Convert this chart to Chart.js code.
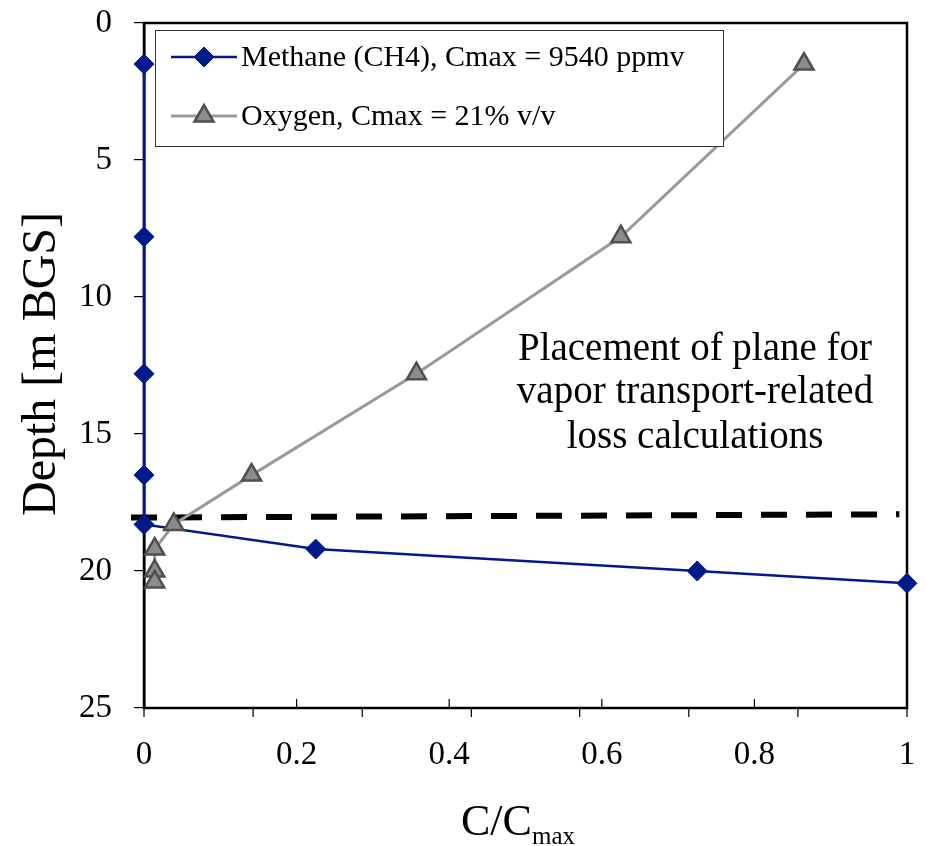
<!DOCTYPE html>
<html>
<head>
<meta charset="utf-8">
<script src="https://cdn.jsdelivr.net/npm/chart.js@4/dist/chart.umd.min.js"></script>
<style>
html, body { margin: 0; padding: 0; background: #fff; }
#wrap { width: 927px; height: 846px; }
</style>
</head>
<body>
<div id="wrap"><canvas id="chart"></canvas></div>
<script>
// values
const methaneX = [0, 0, 0, 0, 0, 0.225, 0.725, 1.0];
const methaneDepth = [1.5, 7.8, 12.8, 16.5, 18.3, 19.2, 20.0, 20.45];
const oxygenX = [0.865, 0.625, 0.357, 0.141, 0.039, 0.014, 0.014, 0.014];
const oxygenDepth = [1.5, 7.8, 12.8, 16.5, 18.3, 19.2, 20.0, 20.4];
const planeX = [-0.017, 0.99];
const planeDepth = [18.05, 17.93];

const xTicks = [0, 0.2, 0.4, 0.6, 0.8, 1];
const xOuterTicks = [0, 0.143, 0.286, 0.429, 0.571, 0.714, 0.857, 1];
const yTicks = [0, 5, 10, 15, 20, 25];
const legendLabels = ["Methane (CH4), Cmax = 9540 ppmv", "Oxygen, Cmax = 21% v/v"];
const noteLines = ["Placement of plane for", "vapor transport-related", "loss calculations"];

const SERIF = '"Liberation Serif", "Times New Roman", serif';

function toPoints(xs, ys) {
    return xs.map((x, i) => ({ x: x, y: ys[i] }));
}

const extras = {
    id: "extras",
    beforeDatasetsDraw(chart) {
        const ctx = chart.ctx;
        const a = chart.chartArea;
        const xs = chart.scales.x;
        ctx.save();
        ctx.strokeStyle = "#000";
        ctx.lineWidth = 2.5;
        ctx.strokeRect(a.left, a.top, a.right - a.left, a.bottom - a.top);
        ctx.lineWidth = 1.2;
        ctx.beginPath();
        xTicks.forEach(v => {
            const px = xs.getPixelForValue(v);
            ctx.moveTo(px, a.bottom);
            ctx.lineTo(px, a.bottom - 9);
        });
        xOuterTicks.forEach(v => {
            const px = xs.getPixelForValue(v);
            ctx.moveTo(px, a.bottom);
            ctx.lineTo(px, a.bottom + 9);
        });
        ctx.stroke();
        ctx.restore();
    },
    afterDatasetsDraw(chart) {
        const ctx = chart.ctx;
        ctx.save();

        // legend box
        ctx.fillStyle = "#fff";
        ctx.fillRect(155, 30, 568, 116);
        ctx.strokeStyle = "#333";
        ctx.lineWidth = 1;
        ctx.strokeRect(155.5, 30.5, 568, 116);

        const rows = [57, 116];
        [1, 0].forEach((dsIndex, i) => {
            const ds = chart.data.datasets[dsIndex];
            const y = rows[i];
            ctx.strokeStyle = ds.borderColor;
            ctx.lineWidth = ds.borderWidth;
            ctx.beginPath();
            ctx.moveTo(171, y);
            ctx.lineTo(237, y);
            ctx.stroke();
            ctx.fillStyle = ds.pointBackgroundColor;
            ctx.strokeStyle = ds.pointBorderColor;
            ctx.lineWidth = ds.pointBorderWidth;
            Chart.helpers.drawPoint(ctx, {
                pointStyle: ds.pointStyle,
                radius: ds.pointRadius,
                borderWidth: ds.pointBorderWidth,
                rotation: 0
            }, 204, y);
            ctx.fillStyle = "#000";
            ctx.font = "30px " + SERIF;
            ctx.textAlign = "left";
            ctx.textBaseline = "middle";
            ctx.fillText(legendLabels[i], 241, y + 1);
        });

        // annotation
        ctx.fillStyle = "#000";
        ctx.font = "39px " + SERIF;
        ctx.textAlign = "center";
        ctx.textBaseline = "middle";
        const noteY = [350, 393, 438];
        noteLines.forEach((t, i) => ctx.fillText(t, 695, noteY[i]));

        // y title
        ctx.save();
        ctx.translate(42, 364);
        ctx.rotate(-Math.PI / 2);
        ctx.font = "48px " + SERIF;
        ctx.fillText("Depth [m BGS]", 0, 0);
        ctx.restore();

        // x title with subscript
        ctx.textAlign = "left";
        ctx.textBaseline = "alphabetic";
        ctx.font = "44px " + SERIF;
        const mainW = ctx.measureText("C/C").width;
        ctx.font = "25px " + SERIF;
        const subW = ctx.measureText("max").width;
        const x0 = 518 - (mainW + subW) / 2;
        ctx.font = "44px " + SERIF;
        ctx.fillText("C/C", x0, 835);
        ctx.font = "25px " + SERIF;
        ctx.fillText("max", x0 + mainW, 844);

        ctx.restore();
    }
};

new Chart(document.getElementById("chart"), {
    type: "scatter",
    data: {
        datasets: [
            {
                label: legendLabels[1],
                data: toPoints(oxygenX, oxygenDepth),
                showLine: true,
                borderColor: "#9a9a9a",
                borderWidth: 3,
                pointStyle: "triangle",
                pointRadius: 11,
                pointBackgroundColor: "#8c8c8c",
                pointBorderColor: "#4f4f4f",
                pointBorderWidth: 2.5,
                clip: false
            },
            {
                label: legendLabels[0],
                data: toPoints(methaneX, methaneDepth),
                showLine: true,
                borderColor: "#001a8c",
                borderWidth: 2.5,
                pointStyle: "rectRot",
                pointRadius: 10,
                pointBackgroundColor: "#001a8c",
                pointBorderColor: "#001a8c",
                pointBorderWidth: 1,
                clip: false
            },
            {
                label: "plane",
                data: toPoints(planeX, planeDepth),
                showLine: true,
                borderColor: "#000",
                borderWidth: 6,
                borderDash: [26, 19],
                pointRadius: 0,
                clip: false
            }
        ]
    },
    options: {
        responsive: true,
        maintainAspectRatio: false,
        animation: false,
        layout: { padding: { left: 0, top: 23, right: 20, bottom: 0 } },
        plugins: {
            legend: { display: false },
            tooltip: { enabled: false }
        },
        scales: {
            x: {
                type: "linear",
                min: 0,
                max: 1,
                afterBuildTicks: s => { s.ticks = xTicks.map(v => ({ value: v })); },
                afterFit: s => { s.height = 138; s.paddingLeft = 0; s.paddingRight = 0; },
                grid: { display: false },
                border: { display: false },
                ticks: {
                    padding: 20,
                    color: "#000",
                    font: { family: SERIF, size: 33 },
                    callback: v => String(v)
                }
            },
            y: {
                type: "linear",
                reverse: true,
                min: 0,
                max: 25,
                afterBuildTicks: s => { s.ticks = yTicks.map(v => ({ value: v })); },
                afterFit: s => { s.width = 144; s.paddingTop = 0; s.paddingBottom = 0; },
                grid: { drawOnChartArea: false, tickLength: 10, color: "#000", lineWidth: 1.2 },
                border: { display: true, color: "#000", width: 2.5 },
                ticks: {
                    padding: 22,
                    color: "#000",
                    font: { family: SERIF, size: 33 },
                    callback: v => String(v)
                }
            }
        }
    },
    plugins: [extras]
});
</script>
</body>
</html>
